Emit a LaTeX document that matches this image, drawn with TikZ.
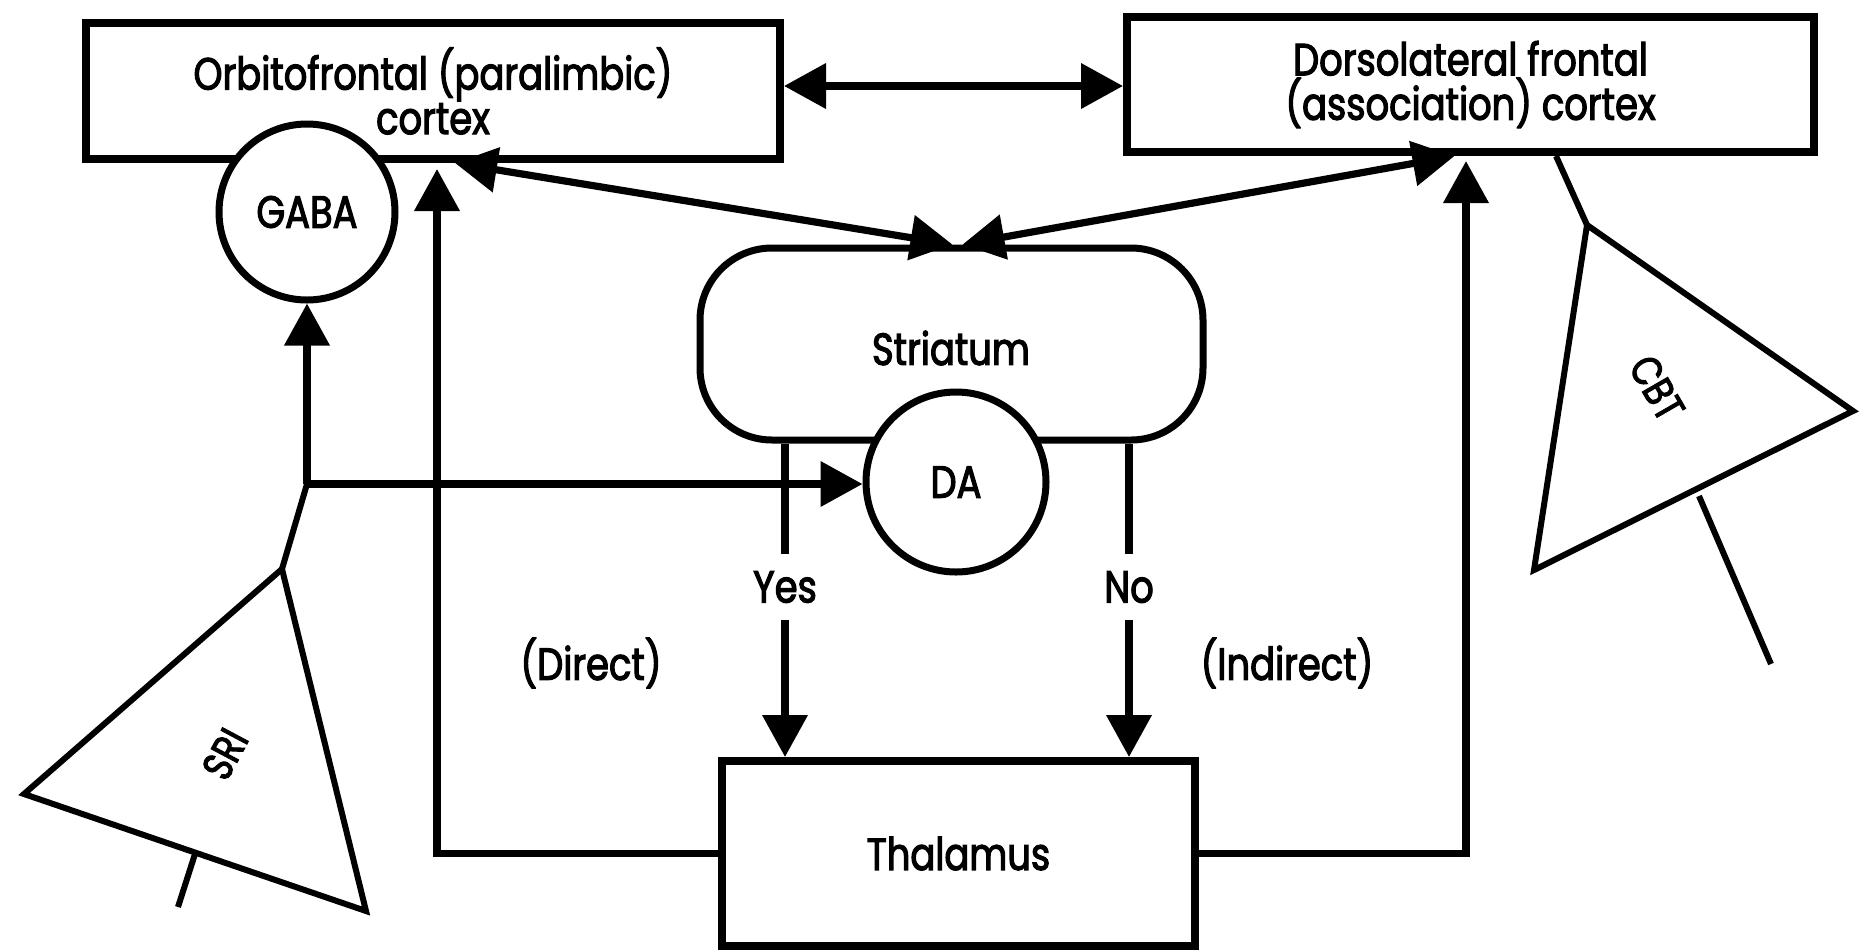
\documentclass[tikz,border=0pt]{standalone}
\usepackage{fontspec}
\setmainfont{Poppins}[FakeStretch=0.82, FakeBold=2.5]
\usetikzlibrary{arrows.meta,calc}
\begin{document}
\begin{tikzpicture}[x=0.5pt,y=-0.5pt,
  every node/.style={font=\fontsize{22.5}{21}\selectfont},
  box/.style={draw, line width=4pt, align=center, inner sep=0pt},
  circ/.style={draw, circle, line width=3.5pt, fill=white, inner sep=0pt},
  arr/.style={line width=3.6pt, -{Triangle[length=21pt,width=22pt]}},
  dbl/.style={line width=3.6pt, {Triangle[length=21pt,width=22pt]}-{Triangle[length=21pt,width=22pt]}},
  plain/.style={line width=3.6pt},
  neuron/.style={line width=3pt, line join=miter},
  gap/.style={inner sep=0pt, minimum height=33pt},
  rotlbl/.style={font=\fontsize{21}{21}\selectfont, inner sep=0pt},
]
\useasboundingbox[fill=white] (0,0) rectangle (1864,949);

% boxes
\node[box, minimum width=347pt, minimum height=68pt] (OFC) at (433,91)
  {Orbitofrontal (paralimbic)\\cortex};
\node[box, minimum width=343.5pt, minimum height=67.5pt] (DLF) at (1470.5,84.5)
  {Dorsolateral frontal\\(association) cortex};
\node[box, minimum width=236.5pt, minimum height=92.5pt] (Thal) at (958.5,853.5)
  {Thalamus};
\node[draw, line width=3.5pt, rounded corners=36pt, minimum width=251.5pt,
  minimum height=96pt, inner sep=0pt] (Str) at (951.5,344) {};
\node at (951,348) (StrT) {Striatum};

% circles
\node[circ, minimum size=88pt] (GABA) at (307,212) {GABA};
\node[circ, minimum size=90pt] (DA) at (956,482) {DA};

% cortex <-> cortex
\draw[dbl] (OFC.east |- 0,86) -- (DLF.west |- 0,86);

% cortex <-> striatum
\draw[dbl] ([xshift=11pt]OFC.south) -- ([xshift=0.5pt]Str.north);
\draw[dbl] ([xshift=-8pt]DLF.south) -- ([xshift=5.5pt]Str.north);

% direct / indirect loops
\draw[arr, shorten >=3pt] (Thal.west) -| ([xshift=2pt]OFC.south);
\draw[arr, shorten >=2.5pt] (Thal.east) -| ([xshift=-2.25pt]DLF.south);

% Yes / No
\node[gap] (yes) at (785,587) {Yes};
\node[gap] (no) at (1129,587) {No};
\draw[plain] (yes.north |- Str.south) -- (yes.north);
\draw[arr] (yes.south) -- (yes.south |- Thal.north);
\draw[plain] (no.north |- Str.south) -- (no.north);
\draw[arr] (no.south) -- (no.south |- Thal.north);

% labels
\node at (591,663) (dir) {(Direct)};
\node at (1287,663) (indir) {(Indirect)};

% SRI neuron
\coordinate (jn) at (307,484);
\coordinate (sriA) at (282,569);
\coordinate (sriL) at (24,794);
\coordinate (sriR) at (366,911);
\coordinate (sriD1) at (195,854);
\coordinate (sriD2) at (178,907);
\draw[arr] (jn) -- (GABA.south);
\draw[arr] (jn) -- (jn -| DA.west);
\draw[neuron] (jn) -- (sriA);
\draw[neuron] (sriA) -- (sriL) -- (sriR) -- cycle;
\draw[neuron] (sriD1) -- (sriD2);
\node[rotlbl, rotate=62] (SRI) at (225,754) {SRI};

% CBT neuron
\coordinate (cbtA) at (1587,225);
\coordinate (cbtR) at (1853,411);
\coordinate (cbtL) at (1534,570);
\coordinate (cbtD1) at (1699,496);
\coordinate (cbtD2) at (1771,664);
\draw[neuron] ([xshift=42.75pt]DLF.south) -- (cbtA);
\draw[neuron] (cbtA) -- (cbtR) -- (cbtL) -- cycle;
\draw[neuron] (cbtD1) -- (cbtD2);
\node[rotlbl, rotate=-60] (CBT) at (1657,388) {CBT};
\end{tikzpicture}
\end{document}
